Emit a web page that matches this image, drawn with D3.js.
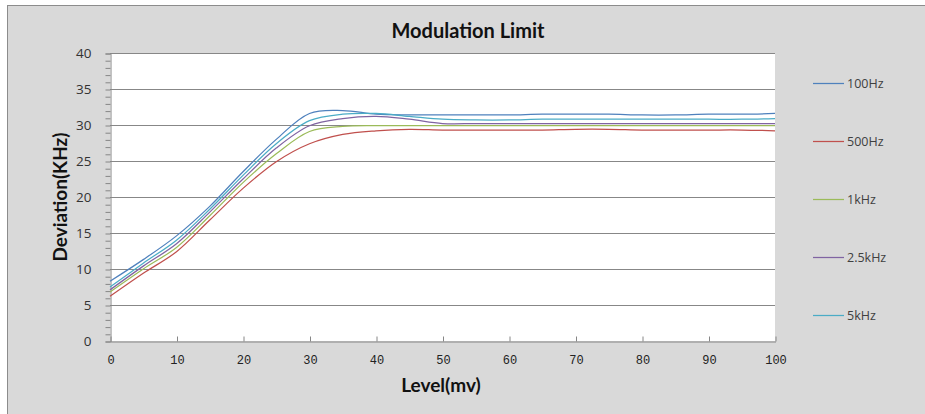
<!DOCTYPE html>
<html>
<head>
<meta charset="utf-8">
<script src="https://cdn.jsdelivr.net/npm/d3@7"></script>
<style>
  body { margin: 0; background: #fff; }
  svg { display: block; }
</style>
</head>
<body>
<svg id="chart" width="925" height="414"></svg>
<script>
"use strict";

// level (mv) sampled every 5
var levels = [0, 5, 10, 15, 20, 25, 30, 35, 40, 45, 50, 55, 60, 65, 70, 75, 80, 85, 90, 95, 100];

var seriesNames = ["100Hz", "500Hz", "1kHz", "2.5kHz", "5kHz"];

var dev100Hz = [8.3, 11.3, 14.6, 18.7, 23.5, 28.0, 31.6, 32.0, 31.5, 31.4, 31.4, 31.4, 31.4, 31.5, 31.5, 31.5, 31.4, 31.4, 31.5, 31.5, 31.6];
var dev500Hz = [6.2, 9.4, 12.4, 16.8, 21.2, 24.9, 27.4, 28.7, 29.2, 29.4, 29.3, 29.3, 29.3, 29.3, 29.4, 29.4, 29.3, 29.3, 29.3, 29.3, 29.2];
var dev1kHz = [6.8, 10.0, 13.0, 17.4, 22.0, 26.0, 29.1, 29.8, 29.9, 29.9, 29.9, 29.9, 29.9, 29.9, 29.9, 29.9, 29.9, 29.9, 29.9, 29.9, 29.9];
var dev2500Hz = [7.1, 10.4, 13.5, 17.9, 22.5, 26.8, 29.9, 30.9, 31.2, 30.8, 30.2, 30.2, 30.2, 30.2, 30.2, 30.2, 30.2, 30.2, 30.2, 30.2, 30.2];
var dev5kHz = [7.5, 10.8, 14.0, 18.3, 23.0, 27.4, 30.6, 31.5, 31.6, 31.2, 30.8, 30.7, 30.7, 30.8, 30.8, 30.8, 30.8, 30.8, 30.8, 30.8, 30.9];

var seriesColors = ["#4F81BD", "#C0504D", "#9BBB59", "#8064A2", "#4BACC6"];

var yTicks = [0, 5, 10, 15, 20, 25, 30, 35, 40];
var xTicks = [0, 10, 20, 30, 40, 50, 60, 70, 80, 90, 100];

var allSeries = [dev100Hz, dev500Hz, dev1kHz, dev2500Hz, dev5kHz];

var svg = d3.select("#chart");

// outer chart panel
svg.append("rect")
	.attr("x", 7.5).attr("y", 5.5)
	.attr("width", 930).attr("height", 420)
	.attr("fill", "#D9D9D9")
	.attr("stroke", "#8C8C8C");

var plot = { left: 110, right: 775, top: 53, bottom: 341 };

var x = d3.scaleLinear().domain([0, 100]).range([plot.left, plot.right]);
var y = d3.scaleLinear().domain([0, 40]).range([plot.bottom, plot.top]);

svg.append("rect")
	.attr("x", plot.left).attr("y", plot.top)
	.attr("width", plot.right - plot.left).attr("height", plot.bottom - plot.top)
	.attr("fill", "#ffffff");

// horizontal gridlines
svg.append("g").selectAll("line")
	.data(yTicks.filter(function (d) { return d > 0; }))
	.enter().append("line")
	.attr("x1", plot.left).attr("x2", plot.right)
	.attr("y1", function (d) { return Math.round(y(d)) + 0.5; })
	.attr("y2", function (d) { return Math.round(y(d)) + 0.5; })
	.attr("stroke", "#878787")
	.attr("stroke-width", 1);

// y axis with minor ticks every 1
var yAxis = d3.axisLeft(y)
	.tickValues(d3.range(0, 41, 1))
	.tickSize(5)
	.tickFormat(function (d) { return d % 5 === 0 ? d : ""; });

var gy = svg.append("g")
	.attr("transform", "translate(" + (plot.left + 0.5) + ",0.5)")
	.call(yAxis);
gy.select(".domain").attr("stroke", "#868686");
gy.selectAll(".tick line").attr("stroke", "#868686");
gy.selectAll(".tick text")
	.attr("x", -19)
	.attr("fill", "#333")
	.style("font-family", "'Open Sans', sans-serif")
	.style("font-size", "13.5px");

// x axis, ticks pointing inward
var xAxis = d3.axisBottom(x)
	.tickValues(xTicks)
	.tickSizeInner(-5)
	.tickSizeOuter(0)
	.tickPadding(14);

var gx = svg.append("g")
	.attr("transform", "translate(0.5," + (plot.bottom + 0.5) + ")")
	.call(xAxis);
gx.select(".domain").attr("stroke", "#868686");
gx.selectAll(".tick line").attr("stroke", "#868686");
gx.selectAll(".tick text")
	.attr("fill", "#222")
	.style("font-family", "'Liberation Mono', monospace")
	.style("font-size", "12px");

// series lines
var line = d3.line()
	.x(function (d, i) { return x(levels[i]); })
	.y(function (d) { return y(d); })
	.curve(d3.curveCatmullRom.alpha(0.5));

svg.append("g").selectAll("path")
	.data(allSeries)
	.enter().append("path")
	.attr("d", line)
	.attr("fill", "none")
	.attr("stroke", function (d, i) { return seriesColors[i]; })
	.attr("stroke-width", 1.25);

// titles
svg.append("text")
	.attr("x", 468).attr("y", 38)
	.attr("text-anchor", "middle")
	.attr("fill", "#111")
	.style("font-family", "Lato, sans-serif")
	.style("font-weight", "bold")
	.style("font-size", "20px")
	.text("Modulation Limit");

svg.append("text")
	.attr("transform", "translate(67,197) rotate(-90)")
	.attr("text-anchor", "middle")
	.attr("fill", "#111")
	.style("font-family", "Lato, sans-serif")
	.style("font-weight", "bold")
	.style("font-size", "19px")
	.text("Deviation(KHz)");

svg.append("text")
	.attr("x", 441).attr("y", 392)
	.attr("text-anchor", "middle")
	.attr("fill", "#111")
	.style("font-family", "Lato, sans-serif")
	.style("font-weight", "bold")
	.style("font-size", "19px")
	.text("Level(mv)");

// legend
var legendY = d3.scalePoint().domain(seriesNames).range([83, 315]);

var legend = svg.append("g").selectAll("g")
	.data(seriesNames)
	.enter().append("g")
	.attr("transform", function (d) { return "translate(813," + (legendY(d) + 0.5) + ")"; });

legend.append("line")
	.attr("x1", 0).attr("x2", 31)
	.attr("stroke", function (d, i) { return seriesColors[i]; })
	.attr("stroke-width", 1.25);

legend.append("text")
	.attr("x", 34).attr("dy", "0.35em")
	.attr("fill", "#404040")
	.style("font-family", "'Open Sans', sans-serif")
	.style("font-size", "12.5px")
	.text(function (d) { return d; });
</script>
</body>
</html>
